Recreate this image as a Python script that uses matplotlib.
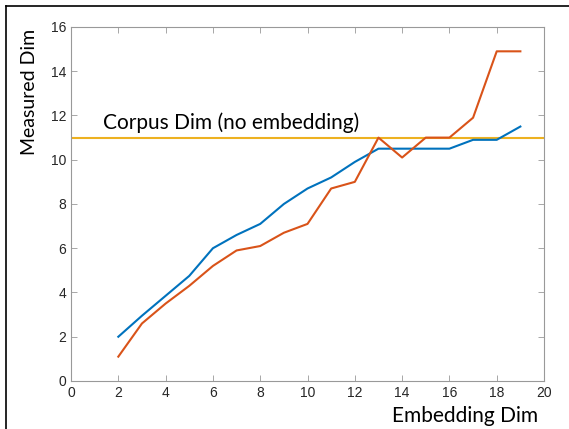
import matplotlib
matplotlib.use("Agg")
import matplotlib.pyplot as plt
from matplotlib.lines import Line2D

embed_dim = list(range(2, 20))
measured_a = [2.0, 2.95, 3.85, 4.75, 6.0, 6.6, 7.1, 8.0, 8.7, 9.2, 9.9, 10.5, 10.5, 10.5, 10.5, 10.9, 10.9, 11.5]
measured_b = [1.1, 2.6, 3.5, 4.3, 5.2, 5.9, 6.1, 6.7, 7.1, 8.7, 9.0, 11.0, 10.1, 11.0, 11.0, 11.9, 14.9, 14.9]
corpus_dim = 11
x_ticks = list(range(0, 21, 2))
y_ticks = list(range(0, 17, 2))

label_font = ['Lato', 'DejaVu Sans']
tick_font = ['Liberation Sans', 'DejaVu Sans']

fig = plt.figure(figsize=(5.69, 4.29), dpi=100)
ax = fig.add_axes([0.1248, 0.1119, 0.8313, 0.8252])

ax.axhline(corpus_dim, color='#EDB120', lw=1.5, zorder=1)
ax.plot(embed_dim, measured_a, color='#0072BD', lw=1.5, zorder=2)
ax.plot(embed_dim, measured_b, color='#D95319', lw=1.5, zorder=2)

ax.text(1.35, corpus_dim + 0.2, 'Corpus Dim (no embedding)', fontsize=15,
        family=label_font, color='black', va='bottom', ha='left')

ax.set_xlim(0, 20)
ax.set_ylim(0, 16)
ax.set_xticks(x_ticks)
ax.set_yticks(y_ticks)
for lab in ax.get_xticklabels() + ax.get_yticklabels():
    lab.set_family(tick_font)
    lab.set_fontsize(10)
    lab.set_color('#262626')

ax.tick_params(direction='in', top=True, right=True, length=4, width=0.6, color='#999999')
for s in ax.spines.values():
    s.set_color('#999999')
    s.set_linewidth(0.8)

ax.set_xlabel('Embedding Dim', fontsize=15, family=label_font)
ax.xaxis.set_label_coords(0.833, -0.072, transform=ax.transAxes)
ax.xaxis.label.set_va('top')
ax.set_ylabel('Measured Dim', fontsize=14, family=label_font)
ax.yaxis.set_label_coords(-0.07, 0.816, transform=ax.transAxes)

# frame lines from the screenshot edge
fig.add_artist(Line2D([0.0105, 1.0], [0.985, 0.985], transform=fig.transFigure, color='black', lw=1.2))
fig.add_artist(Line2D([0.0105, 0.0105], [0.0, 0.985], transform=fig.transFigure, color='black', lw=1.2))

fig.savefig('out.png', dpi=100)
